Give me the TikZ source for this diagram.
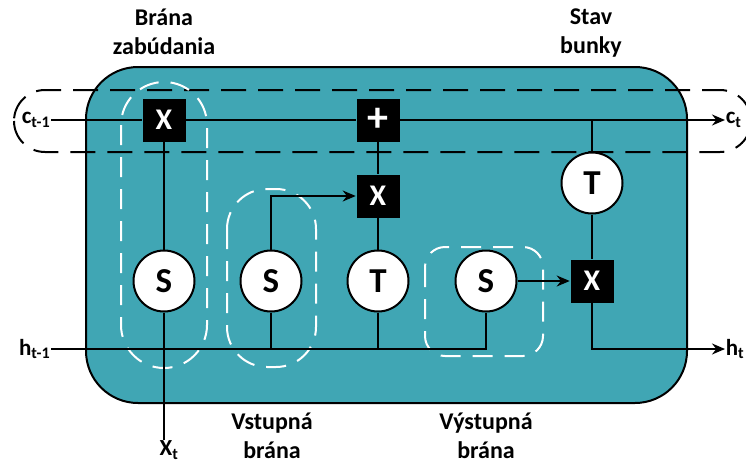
\documentclass[tikz,border=0pt]{standalone}
\usepackage{fontspec}
\setmainfont{Carlito}
\usetikzlibrary{arrows.meta}
\definecolor{cell}{RGB}{64,166,180}

\begin{document}
\begin{tikzpicture}[x=1pt,y=-1pt,line width=1.6pt,
  >={Stealth[length=13pt,width=11pt]},
  op/.style={fill=black,text=white,minimum size=43pt,inner sep=0pt,font=\bfseries\fontsize{30}{30}\selectfont},
  act/.style={circle,draw,line width=2pt,fill=white,minimum size=61pt,inner sep=0pt,font=\bfseries\fontsize{35}{35}\selectfont},
  gate/.style={draw=white,line width=2pt,dash pattern=on 20pt off 12pt},
  lbl/.style={align=center,font=\bfseries\fontsize{24}{29}\selectfont,inner sep=0pt},
  io/.style={font=\bfseries\fontsize{23}{23}\selectfont,inner sep=0pt}]

\useasboundingbox (0,0) rectangle (746,463);

% cell body
\draw[fill=cell,line width=2pt,rounded corners=52pt] (86,67) rectangle (687,403);

% cell state band
\draw[line width=2pt,dash pattern=on 25pt off 12pt,rounded corners=31pt] (14,90) rectangle (751,152);

% gates
\draw[gate,rounded corners=43pt] (121,82) rectangle (207,368);
\draw[gate,rounded corners=40pt] (227,189) rectangle (316,367);
\draw[gate,rounded corners=20pt] (425,247) rectangle (543,356);

\node[op] (fmul) at (164,120) {X};
\node[op,font=\bfseries\fontsize{42}{42}\selectfont] (add) at (378,120) {+};
\node[op] (imul) at (378,196) {X};
\node[op] (omul) at (592,281) {X};
\node[act] (fsig) at (164,281) {S};
\node[act] (isig) at (271,281) {S};
\node[act] (itanh) at (378,281) {T};
\node[act] (osig) at (486,281) {S};
\node[act] (ctanh) at (592,183) {T};

\node[io,anchor=east] (cprev) at (51,120) {c\textsubscript{t-1}};
\node[io,anchor=west] (cnext) at (725,120) {c\textsubscript{t}};
\node[io,anchor=east] (hprev) at (51,349) {h\textsubscript{t-1}};
\node[io,anchor=west] (hnext) at (725,349) {h\textsubscript{t}};
\node[io,anchor=north] (xt) at (169,440) {X\textsubscript{t}};

\node[lbl,anchor=north] (forget) at (164,8) {Brána\\zabúdania};
\node[lbl,anchor=north] (state) at (591,8) {Stav\\bunky};
\node[lbl,anchor=north] (input) at (272,412) {Vstupná\\brána};
\node[lbl,anchor=north] (output) at (486,412) {Výstupná\\brána};

% cell state
\coordinate (split) at (ctanh |- add);
\draw (cprev) -- (fmul) (fmul) -- (add);
\draw[->] (add) -- (cnext);
\draw (split) -- (ctanh) (ctanh) -- (omul);

% gate wiring
\draw (fsig) -- (fmul) (fsig) -- (fsig |- xt.north);
\draw (itanh) -- (imul) (imul) -- (add);
\draw[->] (isig) |- (imul);
\draw[->] (osig) -- (omul);
\draw[->] (omul) |- (hnext);
\draw (hprev) -| (osig);
\draw (isig) -- (isig |- hprev) (itanh) -- (itanh |- hprev);
\end{tikzpicture}
\end{document}
